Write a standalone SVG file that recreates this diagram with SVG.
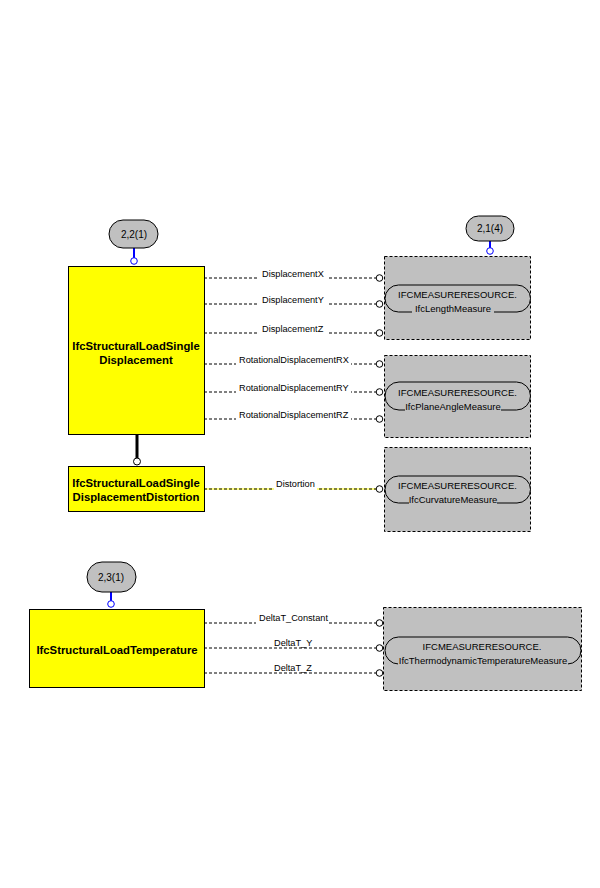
<svg xmlns="http://www.w3.org/2000/svg" width="600" height="888" viewBox="0 0 600 888">
<style>
.ent{fill:#ffff00;stroke:#000;stroke-width:1}
.et{font-family:"Liberation Sans",Arial,sans-serif;font-weight:bold;font-size:11.3px;text-anchor:middle;fill:#000}
.bub{fill:#c0c0c0;stroke:#000;stroke-width:1}
.bt{font-family:"Liberation Sans",Arial,sans-serif;font-size:10px;text-anchor:middle;fill:#000}
.blue{stroke:#0000ff;stroke-width:2;fill:none}
.bc{fill:#fff;stroke:#0000ff;stroke-width:1}
.grp{fill:#c0c0c0;stroke:#000;stroke-width:1;stroke-dasharray:3,2}
.inner{fill:#c0c0c0;stroke:#000;stroke-width:1}
.mt{font-family:"Liberation Sans",Arial,sans-serif;font-size:9.5px;text-anchor:middle;fill:#000}
.dl{stroke:#000;stroke-width:1;stroke-dasharray:3,2;fill:none}
.oc{fill:#fff;stroke:#000;stroke-width:1}
.lb{font-family:"Liberation Sans",Arial,sans-serif;font-size:9.2px;fill:#000}
.wb{fill:#fff}
</style>

<g id="connectors">
  <!-- bubble links -->
  <line class="blue" x1="134" y1="248" x2="134" y2="258"/>
  <circle class="bc" cx="134" cy="261" r="3.3"/>
  <line class="blue" x1="490" y1="241" x2="490" y2="248"/>
  <circle class="bc" cx="490" cy="251" r="3.3"/>
  <line class="blue" x1="111" y1="592" x2="111" y2="601"/>
  <circle class="bc" cx="111" cy="604" r="3.3"/>
  <!-- subtype link -->
  <line x1="137" y1="435" x2="137" y2="458" stroke="#000" stroke-width="3"/>
  <circle class="oc" cx="137" cy="461.5" r="3.5"/>

  <!-- attribute lines -->
  <line class="dl" x1="204" y1="278" x2="376" y2="278"/>
  <rect class="wb" x="259" y="269" width="69" height="11"/>
  <text class="lb" x="262" y="276.5">DisplacementX</text>
  <circle class="oc" cx="379.5" cy="278" r="3.3"/>

  <line class="dl" x1="204" y1="304" x2="376" y2="304"/>
  <rect class="wb" x="259" y="295" width="69" height="11"/>
  <text class="lb" x="262" y="302.5">DisplacementY</text>
  <circle class="oc" cx="379.5" cy="304" r="3.3"/>

  <line class="dl" x1="204" y1="333" x2="376" y2="333"/>
  <rect class="wb" x="259" y="324" width="69" height="11"/>
  <text class="lb" x="262" y="331.5">DisplacementZ</text>
  <circle class="oc" cx="379.5" cy="333" r="3.3"/>

  <line class="dl" x1="204" y1="364" x2="376" y2="364"/>
  <rect class="wb" x="236" y="355" width="115" height="11"/>
  <text class="lb" x="239" y="363">RotationalDisplacementRX</text>
  <circle class="oc" cx="379.5" cy="364" r="3.3"/>

  <line class="dl" x1="204" y1="392" x2="376" y2="392"/>
  <rect class="wb" x="236" y="383" width="115" height="11"/>
  <text class="lb" x="239" y="391">RotationalDisplacementRY</text>
  <circle class="oc" cx="379.5" cy="392" r="3.3"/>

  <line class="dl" x1="204" y1="419" x2="376" y2="419"/>
  <rect class="wb" x="236" y="410" width="115" height="11"/>
  <text class="lb" x="239" y="418">RotationalDisplacementRZ</text>
  <circle class="oc" cx="379.5" cy="419" r="3.3"/>

  <line x1="204" y1="489" x2="376" y2="489" stroke="#ffff00" stroke-width="1"/>
  <line class="dl" x1="204" y1="489" x2="376" y2="489"/>
  <rect class="wb" x="274" y="480" width="43" height="11"/>
  <text class="lb" x="276" y="487">Distortion</text>
  <circle class="oc" cx="379.5" cy="489" r="3.3"/>

  <line class="dl" x1="204" y1="623" x2="376" y2="623"/>
  <rect class="wb" x="256" y="613" width="73" height="11"/>
  <text class="lb" x="259" y="620.5">DeltaT_Constant</text>
  <circle class="oc" cx="379.5" cy="623" r="3.3"/>

  <line class="dl" x1="204" y1="648" x2="376" y2="648"/>
  <text class="lb" x="274" y="645.5">DeltaT_Y</text>
  <circle class="oc" cx="379.5" cy="648" r="3.3"/>

  <line class="dl" x1="204" y1="673" x2="376" y2="673"/>
  <text class="lb" x="274" y="670.5">DeltaT_Z</text>
  <circle class="oc" cx="379.5" cy="673" r="3.3"/>
</g>

<g id="ref_2_2_1">
  <rect class="bub" x="109" y="220" width="49" height="28" rx="14" ry="14"/>
  <text class="bt" x="134" y="238">2,2(1)</text>
</g>
<g id="ref_2_1_4">
  <rect class="bub" x="466" y="216" width="48" height="25" rx="12.5" ry="12.5"/>
  <text class="bt" x="490" y="232">2,1(4)</text>
</g>
<g id="ref_2_3_1">
  <rect class="bub" x="87" y="562" width="49" height="30" rx="15" ry="15"/>
  <text class="bt" x="111" y="581">2,3(1)</text>
</g>

<g id="IfcStructuralLoadSingleDisplacement">
  <rect class="ent" x="68.5" y="266.5" width="136" height="168"/>
  <text class="et" x="136" y="350">IfcStructuralLoadSingle</text>
  <text class="et" x="136" y="363.5">Displacement</text>
</g>
<g id="IfcStructuralLoadSingleDisplacementDistortion">
  <rect class="ent" x="68.5" y="466.5" width="136" height="45"/>
  <text class="et" x="136" y="487">IfcStructuralLoadSingle</text>
  <text class="et" x="136" y="501">DisplacementDistortion</text>
</g>
<g id="IfcStructuralLoadTemperature">
  <rect class="ent" x="29.5" y="609.5" width="175" height="78"/>
  <text class="et" x="117" y="654">IfcStructuralLoadTemperature</text>
</g>

<g id="IfcLengthMeasure">
  <rect class="grp" x="384.5" y="256.5" width="146" height="83"/>
  <rect class="inner" x="385" y="285" width="145.5" height="27" rx="13.5" ry="13.5"/>
  <text class="mt" x="457.5" y="298">IFCMEASURERESOURCE.</text>
  <rect fill="#c0c0c0" x="412" y="306" width="82" height="7"/>
  <text class="mt" x="453" y="311.5">IfcLengthMeasure</text>
</g>
<g id="IfcPlaneAngleMeasure">
  <rect class="grp" x="384.5" y="355.5" width="146" height="82"/>
  <rect class="inner" x="385" y="382" width="145.5" height="28" rx="14" ry="14"/>
  <text class="mt" x="457.5" y="395.5">IFCMEASURERESOURCE.</text>
  <rect fill="#c0c0c0" x="405" y="404" width="96" height="7"/>
  <text class="mt" x="453" y="409.5">IfcPlaneAngleMeasure</text>
</g>
<g id="IfcCurvatureMeasure">
  <rect class="grp" x="384.5" y="447.5" width="146" height="84"/>
  <rect class="inner" x="385" y="476" width="145.5" height="27" rx="13.5" ry="13.5"/>
  <text class="mt" x="457.5" y="489">IFCMEASURERESOURCE.</text>
  <rect fill="#c0c0c0" x="409" y="497" width="88" height="7"/>
  <text class="mt" x="453" y="502.5">IfcCurvatureMeasure</text>
</g>
<g id="IfcThermodynamicTemperatureMeasure">
  <rect class="grp" x="383.5" y="607.5" width="198" height="83"/>
  <rect class="inner" x="385" y="637" width="196" height="27" rx="13.5" ry="13.5"/>
  <text class="mt" x="482" y="650">IFCMEASURERESOURCE.</text>
  <rect fill="#c0c0c0" x="398" y="658" width="170" height="7"/>
  <text class="mt" x="483" y="663.5">IfcThermodynamicTemperatureMeasure</text>
</g>
</svg>
